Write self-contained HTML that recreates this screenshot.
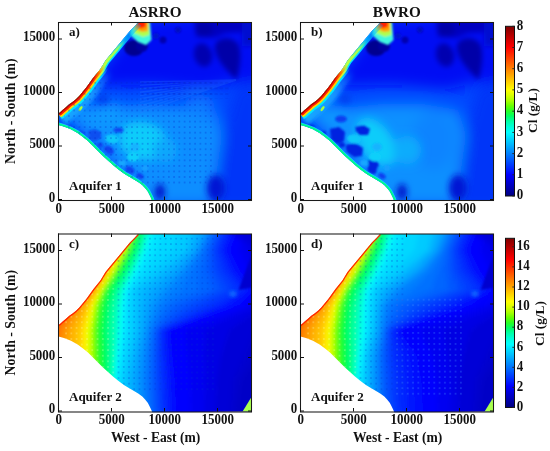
<!DOCTYPE html><html><head><meta charset="utf-8"><style>
html,body{margin:0;padding:0;background:#fff;width:550px;height:451px;overflow:hidden}
svg{display:block;will-change:transform}
text{font-family:"Liberation Serif",serif;font-weight:bold;fill:#111}
</style></head><body>
<svg width="550" height="451" viewBox="0 0 550 451">
<defs>
<clipPath id="dom"><polygon points="138.0,22.6 134.9,26.0 129.9,31.0 124.9,37.0 120.0,43.0 115.0,49.0 110.0,55.0 105.5,60.5 100.4,68.9 93.3,77.7 86.5,87.2 82.6,92.0 79.3,96.0 76.0,99.3 72.6,102.0 69.3,104.3 66.0,107.3 62.7,110.0 60.0,112.6 58.5,113.5 58.5,124.9 63.9,126.6 71.0,129.3 78.0,133.2 83.0,137.0 88.0,141.0 93.0,146.0 98.0,151.0 103.0,156.0 108.0,160.4 113.0,164.9 117.9,168.9 121.9,171.9 124.7,174.0 129.3,176.7 134.0,179.5 138.6,182.3 142.3,185.1 145.1,187.9 147.9,191.6 149.8,195.3 151.6,199.1 152.2,201.0 251.5,200.0 251.5,22.6"/></clipPath>
<filter id="b0_6" x="-50%" y="-50%" width="200%" height="200%"><feGaussianBlur stdDeviation="0.6"/></filter><filter id="b1" x="-50%" y="-50%" width="200%" height="200%"><feGaussianBlur stdDeviation="1"/></filter><filter id="b1_2" x="-50%" y="-50%" width="200%" height="200%"><feGaussianBlur stdDeviation="1.2"/></filter><filter id="b1_5" x="-50%" y="-50%" width="200%" height="200%"><feGaussianBlur stdDeviation="1.5"/></filter><filter id="b2" x="-50%" y="-50%" width="200%" height="200%"><feGaussianBlur stdDeviation="2"/></filter><filter id="b2_5" x="-50%" y="-50%" width="200%" height="200%"><feGaussianBlur stdDeviation="2.5"/></filter><filter id="b3" x="-50%" y="-50%" width="200%" height="200%"><feGaussianBlur stdDeviation="3"/></filter><filter id="b4" x="-50%" y="-50%" width="200%" height="200%"><feGaussianBlur stdDeviation="4"/></filter><filter id="b5" x="-50%" y="-50%" width="200%" height="200%"><feGaussianBlur stdDeviation="5"/></filter><filter id="b7" x="-50%" y="-50%" width="200%" height="200%"><feGaussianBlur stdDeviation="7"/></filter><filter id="b10" x="-50%" y="-50%" width="200%" height="200%"><feGaussianBlur stdDeviation="10"/></filter>
<linearGradient id="cbar1" x1="0" y1="1" x2="0" y2="0"><stop offset="0.000" stop-color="#000080"/><stop offset="0.031" stop-color="#00009f"/><stop offset="0.062" stop-color="#0000bf"/><stop offset="0.094" stop-color="#0000df"/><stop offset="0.125" stop-color="#0000ff"/><stop offset="0.156" stop-color="#0020ff"/><stop offset="0.188" stop-color="#0040ff"/><stop offset="0.219" stop-color="#0060ff"/><stop offset="0.250" stop-color="#0080ff"/><stop offset="0.281" stop-color="#009fff"/><stop offset="0.312" stop-color="#00bfff"/><stop offset="0.344" stop-color="#00dfff"/><stop offset="0.375" stop-color="#00ffff"/><stop offset="0.406" stop-color="#00ffdb"/><stop offset="0.438" stop-color="#00ffaa"/><stop offset="0.469" stop-color="#00ff66"/><stop offset="0.500" stop-color="#26ff26"/><stop offset="0.531" stop-color="#66ff00"/><stop offset="0.562" stop-color="#aaff00"/><stop offset="0.594" stop-color="#dbff00"/><stop offset="0.625" stop-color="#ffff00"/><stop offset="0.656" stop-color="#ffdf00"/><stop offset="0.688" stop-color="#ffbf00"/><stop offset="0.719" stop-color="#ff9f00"/><stop offset="0.750" stop-color="#ff8000"/><stop offset="0.781" stop-color="#ff6000"/><stop offset="0.812" stop-color="#ff4000"/><stop offset="0.844" stop-color="#ff2000"/><stop offset="0.875" stop-color="#ff0000"/><stop offset="0.906" stop-color="#df0000"/><stop offset="0.938" stop-color="#bf0000"/><stop offset="0.969" stop-color="#9f0000"/><stop offset="1.000" stop-color="#800000"/></linearGradient>
<linearGradient id="gGlow" gradientUnits="userSpaceOnUse" x1="58" y1="114" x2="137" y2="22"><stop offset="0" stop-color="#14a8ff"/><stop offset="0.3" stop-color="#1898ff"/><stop offset="0.45" stop-color="#1890ff" stop-opacity="0.5"/><stop offset="0.55" stop-color="#1890ff" stop-opacity="0"/></linearGradient>
<linearGradient id="gCyan" gradientUnits="userSpaceOnUse" x1="58" y1="114" x2="137" y2="22"><stop offset="0" stop-color="#00e8ff"/><stop offset="0.5" stop-color="#00e8ff"/><stop offset="0.75" stop-color="#00d8ff"/><stop offset="0.9" stop-color="#00b8ff" stop-opacity="0.5"/><stop offset="1" stop-color="#00a0ff" stop-opacity="0.3"/></linearGradient>
<linearGradient id="gYel" gradientUnits="userSpaceOnUse" x1="58" y1="114" x2="137" y2="22"><stop offset="0" stop-color="#ffd800"/><stop offset="0.4" stop-color="#ffd000"/><stop offset="0.5" stop-color="#c0ff40"/><stop offset="0.72" stop-color="#a0ff50"/><stop offset="0.82" stop-color="#80ff80" stop-opacity="0"/></linearGradient>
<linearGradient id="gCyanL" gradientUnits="userSpaceOnUse" x1="58" y1="114" x2="137" y2="22"><stop offset="0" stop-color="#00e8ff"/><stop offset="0.45" stop-color="#00e8ff"/><stop offset="0.56" stop-color="#00e8ff" stop-opacity="0"/></linearGradient>
<linearGradient id="gYelL" gradientUnits="userSpaceOnUse" x1="58" y1="114" x2="137" y2="22"><stop offset="0" stop-color="#ffd800"/><stop offset="0.4" stop-color="#ffd000"/><stop offset="0.5" stop-color="#c0ff40"/><stop offset="0.56" stop-color="#c0ff40" stop-opacity="0"/></linearGradient>
<linearGradient id="gRed" gradientUnits="userSpaceOnUse" x1="58" y1="114" x2="137" y2="22"><stop offset="0" stop-color="#ff1800"/><stop offset="0.4" stop-color="#ff2800"/><stop offset="0.48" stop-color="#ff8000"/><stop offset="0.56" stop-color="#ffc000" stop-opacity="0"/></linearGradient>
<linearGradient id="gDark" gradientUnits="userSpaceOnUse" x1="58" y1="114" x2="137" y2="22"><stop offset="0" stop-color="#a80000"/><stop offset="0.4" stop-color="#b80000"/><stop offset="0.5" stop-color="#ff0000" stop-opacity="0"/></linearGradient>
<pattern id="dots" patternUnits="userSpaceOnUse" x="76.77" y="80.03" width="5.26" height="5.54"><ellipse cx="2.63" cy="2.77" rx="1" ry="0.9" fill="#0020c8" opacity="0.32"/></pattern>
<pattern id="dash" patternUnits="userSpaceOnUse" x="76.77" y="80.03" width="5.26" height="5.54"><ellipse cx="2.63" cy="2.77" rx="2" ry="0.8" fill="#0020c8" opacity="0.3"/></pattern>
<pattern id="dotsY" patternUnits="userSpaceOnUse" x="142.08" y="41.01" width="5.24" height="5.58"><ellipse cx="2.62" cy="2.79" rx="1" ry="1" fill="#ffffc0" opacity="0.3"/></pattern>
<pattern id="dotsC" patternUnits="userSpaceOnUse" x="142.08" y="41.01" width="5.24" height="5.58"><ellipse cx="2.62" cy="2.79" rx="1" ry="1" fill="#0030d0" opacity="0.3"/></pattern>
<pattern id="dotsD" patternUnits="userSpaceOnUse" x="141.74" y="41.2" width="5.32" height="5.53"><ellipse cx="2.66" cy="2.76" rx="1" ry="1" fill="#4090ff" opacity="0.35"/></pattern>
</defs>
<g transform="translate(0,0)"><g clip-path="url(#dom)"><rect x="58" y="22" width="194" height="178" fill="#0048ff"/><g filter="url(#b7)"><polygon points="92,84 137,20 262,10 262,84 236,82 205,90 150,85 110,86" fill="#0008f4"/><polygon points="236,86 262,86 262,210 212,210 224,130" fill="#0034f8"/><polygon points="70,118 100,108 140,104 180,106 214,112 222,135 212,205 150,205 100,150" fill="#0c8eff"/><polygon points="180,106 214,108 222,125 200,118" fill="#0c80ff"/><ellipse cx="88" cy="114" rx="22" ry="9" fill="#0c98ff"/><ellipse cx="100" cy="118" rx="30" ry="9" fill="#0c98ff" transform="rotate(15 100 118)"/><ellipse cx="110" cy="108" rx="12" ry="6" fill="#0ca0ff"/><ellipse cx="200" cy="101" rx="15" ry="6" fill="#0c78ff"/></g><g filter="url(#b5)"><ellipse cx="143" cy="141" rx="25" ry="19" fill="#10ccfa" transform="rotate(15 143 141)"/><ellipse cx="165" cy="150" rx="12" ry="12" fill="#10a8fc"/></g><g filter="url(#b2_5)"><polygon points="194,20 246,20 246,32 226,33 214,38 196,37" fill="#0000c0"/><ellipse cx="204" cy="29" rx="9" ry="7.5" fill="#0000a8"/><ellipse cx="203" cy="55" rx="9" ry="12" fill="#0000b0" transform="rotate(-15 203 55)"/><path d="M236.5,79.5 C228,72 214,58 215,46 C216,37 232,35 238,44 C242,52 240,68 236.5,79.5 Z" fill="#0000a8"/><rect x="242" y="16" width="14" height="30" fill="#0008d0"/></g><g filter="url(#b3)"><ellipse cx="216" cy="188" rx="9" ry="13" fill="#0014d4"/><ellipse cx="160" cy="192" rx="5" ry="8" fill="#0014cc"/><ellipse cx="103" cy="99" rx="6" ry="5" fill="#0040f0"/></g><g filter="url(#b1_2)"><ellipse cx="134" cy="48" rx="10" ry="8" fill="#000090"/><ellipse cx="142" cy="46" rx="6" ry="6" fill="#0000a0"/><ellipse cx="156" cy="36" rx="3" ry="3" fill="#0018d0"/><ellipse cx="163" cy="40" rx="3.5" ry="3.5" fill="#0000b0"/><ellipse cx="178" cy="30" rx="3" ry="3" fill="#0008c0"/><polygon points="62,122.5 70,124.5 73.5,127.8 66,128 61,125.5" fill="#0c44f0"/><ellipse cx="81.5" cy="133" rx="2.6" ry="2.1" fill="#0c44f0"/><polygon points="88,131 95,129 101,132 101,138 96,141 90,140" fill="#0850f0"/><ellipse cx="109" cy="150" rx="5.5" ry="3.6" fill="#0c44f0" transform="rotate(35 109 150)"/><ellipse cx="118.5" cy="130" rx="5" ry="2.6" fill="#0c44f0"/><ellipse cx="130" cy="170" rx="5" ry="3.5" fill="#0c44f0" transform="rotate(30 130 170)"/><ellipse cx="100" cy="145" rx="3" ry="2.5" fill="#0c44f0"/><ellipse cx="140" cy="176" rx="4" ry="2.5" fill="#0a40f0" transform="rotate(30 140 176)"/><ellipse cx="112" cy="139" rx="7" ry="4.5" fill="#10c8fa" transform="rotate(10 112 139)"/><ellipse cx="102" cy="157" rx="4" ry="3" fill="#10c0fa"/><ellipse cx="135" cy="147" rx="5" ry="4" fill="#14b4ff"/><ellipse cx="133" cy="157" rx="6" ry="4.5" fill="#10d0fa"/><ellipse cx="122" cy="163" rx="4" ry="3" fill="#14a8ff"/><ellipse cx="145" cy="168" rx="3" ry="3" fill="#18a0ff"/></g><g filter="url(#b1)"><polygon points="130,22 150,22 151.5,40 146,45 138,42 130,35" fill="#40f8e0"/><polygon points="132,22 149,22 149.5,35 143,37 134,33" fill="#b0ff50"/><polygon points="133,21 148,21 148,31 142,32 135,29" fill="#ffa000"/><polygon points="135,21 146,21 145.5,27 141,28.5 137,26" fill="#ff2000"/></g></g><g clip-path="url(#dom)"><path d="M105.5,60.5 L100.4,68.9 L93.3,77.7 L86.5,87.2 L82.6,92.0 L79.3,96.0 L76.0,99.3 L72.6,102.0 L69.3,104.3 L66.0,107.3 L62.7,110.0 L60.0,112.6 L58.5,113.5" fill="none" stroke="url(#gGlow)" stroke-width="26" filter="url(#b2)"/><path d="M138.0,22.6 L134.9,26.0 L129.9,31.0 L124.9,37.0 L120.0,43.0 L115.0,49.0 L110.0,55.0 L105.5,60.5 L100.4,68.9 L93.3,77.7 L86.5,87.2 L82.6,92.0 L79.3,96.0 L76.0,99.3 L72.6,102.0 L69.3,104.3 L66.0,107.3 L62.7,110.0 L60.0,112.6 L58.5,113.5" fill="none" stroke="url(#gCyan)" stroke-width="9" filter="url(#b0_6)"/><path d="M138.0,22.6 L134.9,26.0 L129.9,31.0 L124.9,37.0 L120.0,43.0 L115.0,49.0 L110.0,55.0 L105.5,60.5 L100.4,68.9 L93.3,77.7 L86.5,87.2 L82.6,92.0 L79.3,96.0 L76.0,99.3 L72.6,102.0 L69.3,104.3 L66.0,107.3 L62.7,110.0 L60.0,112.6 L58.5,113.5" fill="none" stroke="url(#gYel)" stroke-width="6" filter="url(#b0_6)"/><path d="M105.5,60.5 L100.4,68.9 L93.3,77.7 L86.5,87.2 L82.6,92.0 L79.3,96.0 L76.0,99.3 L72.6,102.0 L69.3,104.3 L66.0,107.3 L62.7,110.0 L60.0,112.6 L58.5,113.5" fill="none" stroke="url(#gCyanL)" stroke-width="13" filter="url(#b0_6)"/><path d="M105.5,60.5 L100.4,68.9 L93.3,77.7 L86.5,87.2 L82.6,92.0 L79.3,96.0 L76.0,99.3 L72.6,102.0 L69.3,104.3 L66.0,107.3 L62.7,110.0 L60.0,112.6 L58.5,113.5" fill="none" stroke="url(#gYelL)" stroke-width="9" filter="url(#b0_6)"/><path d="M105.5,60.5 L100.4,68.9 L93.3,77.7 L86.5,87.2 L82.6,92.0 L79.3,96.0 L76.0,99.3 L72.6,102.0 L69.3,104.3 L66.0,107.3 L62.7,110.0 L60.0,112.6 L58.5,113.5" fill="none" stroke="url(#gRed)" stroke-width="5.5" filter="url(#b0_6)"/><path d="M105.5,60.5 L100.4,68.9 L93.3,77.7 L86.5,87.2 L82.6,92.0 L79.3,96.0 L76.0,99.3 L72.6,102.0 L69.3,104.3 L66.0,107.3 L62.7,110.0 L60.0,112.6 L58.5,113.5" fill="none" stroke="url(#gDark)" stroke-width="2.2"/><path d="M138.0,22.6 L134.9,26.0 L129.9,31.0 L124.9,37.0 L120.0,43.0 L115.0,49.0 L110.0,55.0" fill="none" stroke="#20c0ff" stroke-width="1.2" opacity="0.7"/><ellipse cx="80.6" cy="108.6" rx="1.3" ry="3" fill="#a0ff40" transform="rotate(35 80.6 108.6)"/><path d="M58.5,124.9 L63.9,126.6 L71.0,129.3 L78.0,133.2 L83.0,137.0 L88.0,141.0 L93.0,146.0 L98.0,151.0 L103.0,156.0 L108.0,160.4 L113.0,164.9 L117.9,168.9 L121.9,171.9 L124.7,174.0 L129.3,176.7 L134.0,179.5 L138.6,182.3 L142.3,185.1 L145.1,187.9 L147.9,191.6 L149.8,195.3 L151.6,199.1 L152.2,201.0" fill="none" stroke="#10d0ff" stroke-width="5" filter="url(#b0_6)"/><path d="M58.5,124.9 L63.9,126.6 L71.0,129.3 L78.0,133.2 L83.0,137.0 L88.0,141.0 L93.0,146.0 L98.0,151.0 L103.0,156.0 L108.0,160.4 L113.0,164.9 L117.9,168.9 L121.9,171.9 L124.7,174.0 L129.3,176.7 L134.0,179.5 L138.6,182.3 L142.3,185.1 L145.1,187.9 L147.9,191.6 L149.8,195.3 L151.6,199.1 L152.2,201.0" fill="none" stroke="#00fa88" stroke-width="3.4" filter="url(#b0_6)"/><path d="M236,80 L140,82 M236,80 L140,85.4 M236,80 L140,88.8 M236,80 L140,92.2 M236,80 L140,95.6 M236,80 L140,99 M236,80 L140,102.4 M236,80 L140,105.8 M236,80 L140,109.2 M236,80 L140,112.6 " stroke="#2a80ff" stroke-width="1.4" opacity="0.25" fill="none" filter="url(#b0_6)"/><rect x="64" y="79" width="149" height="107" fill="url(#dots)"/><rect x="140" y="79" width="90" height="20" fill="url(#dash)"/></g></g><g transform="translate(242,0)"><g clip-path="url(#dom)"><rect x="58" y="22" width="194" height="178" fill="#0048ff"/><g filter="url(#b7)"><polygon points="92,84 137,20 262,10 262,84 236,82 205,90 150,85 110,86" fill="#0008f4"/><polygon points="236,86 262,86 262,210 212,210 224,130" fill="#0034f8"/><polygon points="70,118 100,108 140,104 180,104 216,110 224,135 214,205 150,205 100,150" fill="#0c90ff"/><ellipse cx="192" cy="140" rx="22" ry="30" fill="#0c84ff"/><ellipse cx="88" cy="114" rx="22" ry="9" fill="#0c98ff"/></g><g filter="url(#b5)"><ellipse cx="134" cy="142" rx="16" ry="27" fill="#10ccfa" transform="rotate(-35 134 142)"/><ellipse cx="165" cy="150" rx="14" ry="14" fill="#10acfc"/></g><g filter="url(#b2_5)"><polygon points="194,20 246,20 246,32 226,33 214,38 196,37" fill="#0000c0"/><ellipse cx="204" cy="29" rx="9" ry="7.5" fill="#0000a8"/><ellipse cx="203" cy="55" rx="9" ry="12" fill="#0000b0" transform="rotate(-15 203 55)"/><path d="M236.5,79.5 C228,72 214,58 215,46 C216,37 232,35 238,44 C242,52 240,68 236.5,79.5 Z" fill="#0000a8"/><rect x="242" y="16" width="14" height="30" fill="#0008d0"/></g><g filter="url(#b3)"><ellipse cx="216" cy="188" rx="9" ry="13" fill="#0014d4"/><ellipse cx="160" cy="192" rx="5" ry="8" fill="#0014cc"/><ellipse cx="103" cy="99" rx="6" ry="5" fill="#0040f0"/></g><g filter="url(#b1_2)"><ellipse cx="134" cy="48" rx="10" ry="8" fill="#000090"/><ellipse cx="142" cy="46" rx="6" ry="6" fill="#0000a0"/><ellipse cx="156" cy="36" rx="3" ry="3" fill="#0018d0"/><ellipse cx="163" cy="40" rx="3.5" ry="3.5" fill="#0000b0"/><ellipse cx="178" cy="30" rx="3" ry="3" fill="#0008c0"/><polygon points="62,122.5 70,124.5 73.5,127.8 66,128 61,125.5" fill="#0020e0"/><ellipse cx="81.5" cy="133" rx="2.6" ry="2.1" fill="#0020e0"/><polygon points="88,129 97,127 103,132 102,141 95,144 89,139" fill="#0020e0"/><polygon points="104,145 113,143 121,148 120,156 112,157 105,152" fill="#0020e0"/><polygon points="113,127 122,125.5 128,129 126,135 117,135" fill="#0020e0"/><polygon points="126,160 134,159 137,165 134,170 127,169" fill="#0020e0"/><ellipse cx="99" cy="119" rx="6" ry="3.5" fill="#0840f0"/><ellipse cx="109" cy="150" rx="5.5" ry="3.6" fill="#0020e0" transform="rotate(35 109 150)"/><ellipse cx="118.5" cy="130" rx="5" ry="2.6" fill="#0020e0"/><ellipse cx="130" cy="170" rx="5" ry="3.5" fill="#0020e0" transform="rotate(30 130 170)"/><ellipse cx="100" cy="145" rx="3" ry="2.5" fill="#0020e0"/><ellipse cx="140" cy="176" rx="4" ry="2.5" fill="#0a40f0" transform="rotate(30 140 176)"/><ellipse cx="112" cy="139" rx="7" ry="4.5" fill="#10c8fa" transform="rotate(10 112 139)"/><ellipse cx="102" cy="157" rx="4" ry="3" fill="#10c0fa"/><ellipse cx="135" cy="147" rx="5" ry="4" fill="#14b4ff"/><ellipse cx="133" cy="157" rx="6" ry="4.5" fill="#10d0fa"/><ellipse cx="122" cy="163" rx="4" ry="3" fill="#14a8ff"/><ellipse cx="145" cy="168" rx="3" ry="3" fill="#18a0ff"/></g><g filter="url(#b1)"><polygon points="130,22 150,22 151.5,40 146,45 138,42 130,35" fill="#40f8e0"/><polygon points="132,22 149,22 149.5,35 143,37 134,33" fill="#b0ff50"/><polygon points="133,21 148,21 148,31 142,32 135,29" fill="#ffa000"/><polygon points="135,21 146,21 145.5,27 141,28.5 137,26" fill="#ff2000"/></g></g><g clip-path="url(#dom)"><path d="M105.5,60.5 L100.4,68.9 L93.3,77.7 L86.5,87.2 L82.6,92.0 L79.3,96.0 L76.0,99.3 L72.6,102.0 L69.3,104.3 L66.0,107.3 L62.7,110.0 L60.0,112.6 L58.5,113.5" fill="none" stroke="url(#gGlow)" stroke-width="26" filter="url(#b2)"/><path d="M138.0,22.6 L134.9,26.0 L129.9,31.0 L124.9,37.0 L120.0,43.0 L115.0,49.0 L110.0,55.0 L105.5,60.5 L100.4,68.9 L93.3,77.7 L86.5,87.2 L82.6,92.0 L79.3,96.0 L76.0,99.3 L72.6,102.0 L69.3,104.3 L66.0,107.3 L62.7,110.0 L60.0,112.6 L58.5,113.5" fill="none" stroke="url(#gCyan)" stroke-width="9" filter="url(#b0_6)"/><path d="M138.0,22.6 L134.9,26.0 L129.9,31.0 L124.9,37.0 L120.0,43.0 L115.0,49.0 L110.0,55.0 L105.5,60.5 L100.4,68.9 L93.3,77.7 L86.5,87.2 L82.6,92.0 L79.3,96.0 L76.0,99.3 L72.6,102.0 L69.3,104.3 L66.0,107.3 L62.7,110.0 L60.0,112.6 L58.5,113.5" fill="none" stroke="url(#gYel)" stroke-width="6" filter="url(#b0_6)"/><path d="M105.5,60.5 L100.4,68.9 L93.3,77.7 L86.5,87.2 L82.6,92.0 L79.3,96.0 L76.0,99.3 L72.6,102.0 L69.3,104.3 L66.0,107.3 L62.7,110.0 L60.0,112.6 L58.5,113.5" fill="none" stroke="url(#gCyanL)" stroke-width="13" filter="url(#b0_6)"/><path d="M105.5,60.5 L100.4,68.9 L93.3,77.7 L86.5,87.2 L82.6,92.0 L79.3,96.0 L76.0,99.3 L72.6,102.0 L69.3,104.3 L66.0,107.3 L62.7,110.0 L60.0,112.6 L58.5,113.5" fill="none" stroke="url(#gYelL)" stroke-width="9" filter="url(#b0_6)"/><path d="M105.5,60.5 L100.4,68.9 L93.3,77.7 L86.5,87.2 L82.6,92.0 L79.3,96.0 L76.0,99.3 L72.6,102.0 L69.3,104.3 L66.0,107.3 L62.7,110.0 L60.0,112.6 L58.5,113.5" fill="none" stroke="url(#gRed)" stroke-width="5.5" filter="url(#b0_6)"/><path d="M105.5,60.5 L100.4,68.9 L93.3,77.7 L86.5,87.2 L82.6,92.0 L79.3,96.0 L76.0,99.3 L72.6,102.0 L69.3,104.3 L66.0,107.3 L62.7,110.0 L60.0,112.6 L58.5,113.5" fill="none" stroke="url(#gDark)" stroke-width="2.2"/><path d="M138.0,22.6 L134.9,26.0 L129.9,31.0 L124.9,37.0 L120.0,43.0 L115.0,49.0 L110.0,55.0" fill="none" stroke="#20c0ff" stroke-width="1.2" opacity="0.7"/><ellipse cx="80.6" cy="108.6" rx="1.3" ry="3" fill="#a0ff40" transform="rotate(35 80.6 108.6)"/><path d="M58.5,124.9 L63.9,126.6 L71.0,129.3 L78.0,133.2 L83.0,137.0 L88.0,141.0 L93.0,146.0 L98.0,151.0 L103.0,156.0 L108.0,160.4 L113.0,164.9 L117.9,168.9 L121.9,171.9 L124.7,174.0 L129.3,176.7 L134.0,179.5 L138.6,182.3 L142.3,185.1 L145.1,187.9 L147.9,191.6 L149.8,195.3 L151.6,199.1 L152.2,201.0" fill="none" stroke="#10d0ff" stroke-width="5" filter="url(#b0_6)"/><path d="M58.5,124.9 L63.9,126.6 L71.0,129.3 L78.0,133.2 L83.0,137.0 L88.0,141.0 L93.0,146.0 L98.0,151.0 L103.0,156.0 L108.0,160.4 L113.0,164.9 L117.9,168.9 L121.9,171.9 L124.7,174.0 L129.3,176.7 L134.0,179.5 L138.6,182.3 L142.3,185.1 L145.1,187.9 L147.9,191.6 L149.8,195.3 L151.6,199.1 L152.2,201.0" fill="none" stroke="#00fa88" stroke-width="3.4" filter="url(#b0_6)"/></g></g><g transform="translate(0,211.5)"><g clip-path="url(#dom)"><g transform="translate(0,-211.5)" filter="url(#b2_5)"><polygon points="20.0,225.0 118.0,225.0 108.0,250.0 98.0,270.0 86.0,290.0 72.0,305.0 55.0,330.0 50.0,355.0 50.0,380.0 50.0,420.0 20.0,420.0" fill="#ff5700"/><polygon points="118.0,225.0 108.0,250.0 98.0,270.0 86.0,290.0 72.0,305.0 55.0,330.0 50.0,355.0 50.0,380.0 50.0,420.0 53.0,420.0 53.0,380.0 53.0,355.0 57.5,330.0 74.5,305.0 88.0,290.0 100.0,270.0 110.0,250.0 120.0,225.0" fill="#ff6700" stroke="#ff6700" stroke-width="1"/><polygon points="120.0,225.0 110.0,250.0 100.0,270.0 88.0,290.0 74.5,305.0 57.5,330.0 53.0,355.0 53.0,380.0 53.0,420.0 56.0,420.0 56.0,380.0 56.0,355.0 60.0,330.0 77.0,305.0 90.0,290.0 102.0,270.0 112.0,250.0 122.0,225.0" fill="#ff7400" stroke="#ff7400" stroke-width="1"/><polygon points="122.0,225.0 112.0,250.0 102.0,270.0 90.0,290.0 77.0,305.0 60.0,330.0 56.0,355.0 56.0,380.0 56.0,420.0 59.1,420.0 59.1,380.0 59.1,355.0 62.8,330.0 79.2,305.0 91.7,290.0 103.1,270.0 113.4,250.0 123.4,225.0" fill="#ff8100" stroke="#ff8100" stroke-width="1"/><polygon points="123.4,225.0 113.4,250.0 103.1,270.0 91.7,290.0 79.2,305.0 62.8,330.0 59.1,355.0 59.1,380.0 59.1,420.0 62.1,420.0 62.1,380.0 62.1,355.0 65.6,330.0 81.4,305.0 93.3,290.0 104.2,270.0 114.8,250.0 124.8,225.0" fill="#ff8e00" stroke="#ff8e00" stroke-width="1"/><polygon points="124.8,225.0 114.8,250.0 104.2,270.0 93.3,290.0 81.4,305.0 65.6,330.0 62.1,355.0 62.1,380.0 62.1,420.0 65.2,420.0 65.2,380.0 65.2,355.0 68.3,330.0 83.7,305.0 95.0,290.0 105.3,270.0 116.2,250.0 126.2,225.0" fill="#ff9a00" stroke="#ff9a00" stroke-width="1"/><polygon points="126.2,225.0 116.2,250.0 105.3,270.0 95.0,290.0 83.7,305.0 68.3,330.0 65.2,355.0 65.2,380.0 65.2,420.0 68.8,420.0 68.8,380.0 68.8,355.0 71.7,330.0 85.7,305.0 96.3,290.0 106.5,270.0 117.5,250.0 127.5,225.0" fill="#ffa700" stroke="#ffa700" stroke-width="1"/><polygon points="127.5,225.0 117.5,250.0 106.5,270.0 96.3,290.0 85.7,305.0 71.7,330.0 68.8,355.0 68.8,380.0 68.8,420.0 73.4,420.0 73.4,380.0 73.4,355.0 75.8,330.0 87.3,305.0 97.2,290.0 107.7,270.0 118.7,250.0 128.7,225.0" fill="#ffb400" stroke="#ffb400" stroke-width="1"/><polygon points="128.7,225.0 118.7,250.0 107.7,270.0 97.2,290.0 87.3,305.0 75.8,330.0 73.4,355.0 73.4,380.0 73.4,420.0 78.0,420.0 78.0,380.0 78.0,355.0 80.0,330.0 89.0,305.0 98.0,290.0 109.0,270.0 120.0,250.0 130.0,225.0" fill="#ffc100" stroke="#ffc100" stroke-width="1"/><polygon points="130.0,225.0 120.0,250.0 109.0,270.0 98.0,290.0 89.0,305.0 80.0,330.0 78.0,355.0 78.0,380.0 78.0,420.0 80.2,420.0 80.2,380.0 80.2,355.0 81.9,330.0 89.9,305.0 98.6,290.0 109.9,270.0 120.9,250.0 130.9,225.0" fill="#ffcd00" stroke="#ffcd00" stroke-width="1"/><polygon points="130.9,225.0 120.9,250.0 109.9,270.0 98.6,290.0 89.9,305.0 81.9,330.0 80.2,355.0 80.2,380.0 80.2,420.0 82.4,420.0 82.4,380.0 82.4,355.0 83.7,330.0 90.9,305.0 99.2,290.0 110.9,270.0 121.9,250.0 131.9,225.0" fill="#ffda00" stroke="#ffda00" stroke-width="1"/><polygon points="131.9,225.0 121.9,250.0 110.9,270.0 99.2,290.0 90.9,305.0 83.7,330.0 82.4,355.0 82.4,380.0 82.4,420.0 84.6,420.0 84.6,380.0 84.6,355.0 85.6,330.0 91.8,305.0 99.9,290.0 111.8,270.0 122.8,250.0 132.8,225.0" fill="#ffe700" stroke="#ffe700" stroke-width="1"/><polygon points="132.8,225.0 122.8,250.0 111.8,270.0 99.9,290.0 91.8,305.0 85.6,330.0 84.6,355.0 84.6,380.0 84.6,420.0 85.9,420.0 85.9,380.0 85.9,355.0 86.8,330.0 92.5,305.0 100.4,290.0 112.4,270.0 123.4,250.0 133.4,225.0" fill="#fff400" stroke="#fff400" stroke-width="1"/><polygon points="133.4,225.0 123.4,250.0 112.4,270.0 100.4,290.0 92.5,305.0 86.8,330.0 85.9,355.0 85.9,380.0 85.9,420.0 87.1,420.0 87.1,380.0 87.1,355.0 87.8,330.0 93.2,305.0 100.9,290.0 112.9,270.0 123.9,250.0 133.9,225.0" fill="#feff00" stroke="#feff00" stroke-width="1"/><polygon points="133.9,225.0 123.9,250.0 112.9,270.0 100.9,290.0 93.2,305.0 87.8,330.0 87.1,355.0 87.1,380.0 87.1,420.0 88.3,420.0 88.3,380.0 88.3,355.0 88.8,330.0 93.9,305.0 101.4,290.0 113.4,270.0 124.4,250.0 134.4,225.0" fill="#f0ff00" stroke="#f0ff00" stroke-width="1"/><polygon points="134.4,225.0 124.4,250.0 113.4,270.0 101.4,290.0 93.9,305.0 88.8,330.0 88.3,355.0 88.3,380.0 88.3,420.0 89.4,420.0 89.4,380.0 89.4,355.0 89.8,330.0 94.5,305.0 101.9,290.0 113.9,270.0 124.9,250.0 134.9,225.0" fill="#e1ff00" stroke="#e1ff00" stroke-width="1"/><polygon points="134.9,225.0 124.9,250.0 113.9,270.0 101.9,290.0 94.5,305.0 89.8,330.0 89.4,355.0 89.4,380.0 89.4,420.0 90.6,420.0 90.6,380.0 90.6,355.0 90.8,330.0 95.2,305.0 102.4,290.0 114.4,270.0 125.4,250.0 135.4,225.0" fill="#d0ff00" stroke="#d0ff00" stroke-width="1"/><polygon points="135.4,225.0 125.4,250.0 114.4,270.0 102.4,290.0 95.2,305.0 90.8,330.0 90.6,355.0 90.6,380.0 90.6,420.0 91.8,420.0 91.8,380.0 91.8,355.0 91.8,330.0 95.9,305.0 102.9,290.0 114.9,270.0 125.9,250.0 135.9,225.0" fill="#bdff00" stroke="#bdff00" stroke-width="1"/><polygon points="135.9,225.0 125.9,250.0 114.9,270.0 102.9,290.0 95.9,305.0 91.8,330.0 91.8,355.0 91.8,380.0 91.8,420.0 93.2,420.0 93.2,380.0 93.1,355.0 92.9,330.0 96.8,305.0 103.5,290.0 115.6,270.0 126.6,250.0 136.5,225.0" fill="#a8ff00" stroke="#a8ff00" stroke-width="1"/><polygon points="136.5,225.0 126.6,250.0 115.6,270.0 103.5,290.0 96.8,305.0 92.9,330.0 93.1,355.0 93.2,380.0 93.2,420.0 94.8,420.0 94.8,380.0 94.4,355.0 94.1,330.0 97.7,305.0 104.0,290.0 116.4,270.0 127.4,250.0 137.0,225.0" fill="#8fff00" stroke="#8fff00" stroke-width="1"/><polygon points="137.0,225.0 127.4,250.0 116.4,270.0 104.0,290.0 97.7,305.0 94.1,330.0 94.4,355.0 94.8,380.0 94.8,420.0 96.3,420.0 96.3,380.0 95.8,355.0 95.2,330.0 98.7,305.0 104.6,290.0 117.2,270.0 128.2,250.0 137.6,225.0" fill="#73ff00" stroke="#73ff00" stroke-width="1"/><polygon points="137.6,225.0 128.2,250.0 117.2,270.0 104.6,290.0 98.7,305.0 95.2,330.0 95.8,355.0 96.3,380.0 96.3,420.0 97.8,420.0 97.8,380.0 97.1,355.0 96.4,330.0 99.7,305.0 105.2,290.0 117.9,270.0 128.9,250.0 138.2,225.0" fill="#51ff00" stroke="#51ff00" stroke-width="1"/><polygon points="138.2,225.0 128.9,250.0 117.9,270.0 105.2,290.0 99.7,305.0 96.4,330.0 97.1,355.0 97.8,380.0 97.8,420.0 99.4,420.0 99.4,380.0 98.5,355.0 97.5,330.0 100.6,305.0 105.8,290.0 118.7,270.0 129.7,250.0 138.8,225.0" fill="#3aff13" stroke="#3aff13" stroke-width="1"/><polygon points="138.8,225.0 129.7,250.0 118.7,270.0 105.8,290.0 100.6,305.0 97.5,330.0 98.5,355.0 99.4,380.0 99.4,420.0 102.0,420.0 101.7,380.0 100.7,355.0 99.7,330.0 102.7,305.0 107.7,290.0 120.5,270.0 131.2,250.0 140.0,225.0" fill="#24ff28" stroke="#24ff28" stroke-width="1"/><polygon points="140.0,225.0 131.2,250.0 120.5,270.0 107.7,290.0 102.7,305.0 99.7,330.0 100.7,355.0 101.7,380.0 102.0,420.0 105.3,420.0 104.7,380.0 103.7,355.0 102.7,330.0 105.7,305.0 110.7,290.0 123.0,270.0 133.3,250.0 141.7,225.0" fill="#0eff3e" stroke="#0eff3e" stroke-width="1"/><polygon points="141.7,225.0 133.3,250.0 123.0,270.0 110.7,290.0 105.7,305.0 102.7,330.0 103.7,355.0 104.7,380.0 105.3,420.0 108.4,420.0 107.4,380.0 106.5,355.0 105.6,330.0 108.5,305.0 113.5,290.0 125.5,270.0 135.5,250.0 143.5,225.0" fill="#00ff59" stroke="#00ff59" stroke-width="1"/><polygon points="143.5,225.0 135.5,250.0 125.5,270.0 113.5,290.0 108.5,305.0 105.6,330.0 106.5,355.0 107.4,380.0 108.4,420.0 110.2,420.0 109.2,380.0 109.0,355.0 108.7,330.0 111.0,305.0 116.0,290.0 128.0,270.0 138.0,250.0 146.0,225.0" fill="#00ff79" stroke="#00ff79" stroke-width="1"/><polygon points="146.0,225.0 138.0,250.0 128.0,270.0 116.0,290.0 111.0,305.0 108.7,330.0 109.0,355.0 109.2,380.0 110.2,420.0 111.7,420.0 110.7,380.0 111.2,355.0 111.7,330.0 113.7,305.0 118.2,290.0 130.0,270.0 139.7,250.0 147.7,225.0" fill="#00ff94" stroke="#00ff94" stroke-width="1"/><polygon points="147.7,225.0 139.7,250.0 130.0,270.0 118.2,290.0 113.7,305.0 111.7,330.0 111.2,355.0 110.7,380.0 111.7,420.0 113.0,420.0 112.0,380.0 113.3,355.0 114.7,330.0 116.7,305.0 120.3,290.0 131.7,270.0 141.0,250.0 149.0,225.0" fill="#00ffac" stroke="#00ffac" stroke-width="1"/><polygon points="149.0,225.0 141.0,250.0 131.7,270.0 120.3,290.0 116.7,305.0 114.7,330.0 113.3,355.0 112.0,380.0 113.0,420.0 114.2,420.0 113.2,380.0 115.2,355.0 117.3,330.0 119.2,305.0 122.2,290.0 133.2,270.0 142.2,250.0 150.2,225.0" fill="#00ffc1" stroke="#00ffc1" stroke-width="1"/><polygon points="150.2,225.0 142.2,250.0 133.2,270.0 122.2,290.0 119.2,305.0 117.3,330.0 115.2,355.0 113.2,380.0 114.2,420.0 115.1,420.0 114.1,380.0 116.3,355.0 118.7,330.0 120.5,305.0 123.3,290.0 134.3,270.0 143.5,250.0 151.5,225.0" fill="#00ffd4" stroke="#00ffd4" stroke-width="1"/><polygon points="151.5,225.0 143.5,250.0 134.3,270.0 123.3,290.0 120.5,305.0 118.7,330.0 116.3,355.0 114.1,380.0 115.1,420.0 116.0,420.0 115.0,380.0 117.4,355.0 120.1,330.0 121.7,305.0 124.4,290.0 135.4,270.0 144.7,250.0 152.7,225.0" fill="#00ffe4" stroke="#00ffe4" stroke-width="1"/><polygon points="152.7,225.0 144.7,250.0 135.4,270.0 124.4,290.0 121.7,305.0 120.1,330.0 117.4,355.0 115.0,380.0 116.0,420.0 116.9,420.0 115.9,380.0 118.4,355.0 121.6,330.0 123.0,305.0 125.4,290.0 136.4,270.0 146.0,250.0 154.0,225.0" fill="#00fff3" stroke="#00fff3" stroke-width="1"/><polygon points="154.0,225.0 146.0,250.0 136.4,270.0 125.4,290.0 123.0,305.0 121.6,330.0 118.4,355.0 115.9,380.0 116.9,420.0 117.7,420.0 116.7,380.0 119.5,355.0 123.0,330.0 124.2,305.0 126.5,290.0 137.5,270.0 147.2,250.0 155.2,225.0" fill="#00feff" stroke="#00feff" stroke-width="1"/><polygon points="155.2,225.0 147.2,250.0 137.5,270.0 126.5,290.0 124.2,305.0 123.0,330.0 119.5,355.0 116.7,380.0 117.7,420.0 118.6,420.0 117.6,380.0 120.6,355.0 124.4,330.0 125.5,305.0 127.6,290.0 138.6,270.0 148.5,250.0 156.5,225.0" fill="#00f1ff" stroke="#00f1ff" stroke-width="1"/><polygon points="156.5,225.0 148.5,250.0 138.6,270.0 127.6,290.0 125.5,305.0 124.4,330.0 120.6,355.0 117.6,380.0 118.6,420.0 120.7,420.0 119.7,380.0 123.2,355.0 127.5,330.0 128.2,305.0 129.7,290.0 144.2,270.0 158.0,250.0 165.2,225.0" fill="#00e4ff" stroke="#00e4ff" stroke-width="1"/><polygon points="165.2,225.0 158.0,250.0 144.2,270.0 129.7,290.0 128.2,305.0 127.5,330.0 123.2,355.0 119.7,380.0 120.7,420.0 123.7,420.0 122.7,380.0 127.0,355.0 131.7,330.0 132.0,305.0 132.7,290.0 153.0,270.0 173.0,250.0 179.0,225.0" fill="#00d7ff" stroke="#00d7ff" stroke-width="1"/><polygon points="179.0,225.0 173.0,250.0 153.0,270.0 132.7,290.0 132.0,305.0 131.7,330.0 127.0,355.0 122.7,380.0 123.7,420.0 126.7,420.0 125.7,380.0 130.6,355.0 135.6,330.0 135.9,305.0 136.6,290.0 161.2,270.0 185.7,250.0 191.1,225.0" fill="#00cbff" stroke="#00cbff" stroke-width="1"/><polygon points="191.1,225.0 185.7,250.0 161.2,270.0 136.6,290.0 135.9,305.0 135.6,330.0 130.6,355.0 125.7,380.0 126.7,420.0 130.5,420.0 129.5,380.0 133.7,355.0 138.7,330.0 140.6,305.0 144.4,290.0 167.5,270.0 189.5,250.0 196.7,225.0" fill="#00beff" stroke="#00beff" stroke-width="1"/><polygon points="196.7,225.0 189.5,250.0 167.5,270.0 144.4,290.0 140.6,305.0 138.7,330.0 133.7,355.0 129.5,380.0 130.5,420.0 134.2,420.0 133.2,380.0 136.9,355.0 141.9,330.0 145.3,305.0 152.2,290.0 173.7,270.0 193.2,250.0 202.4,225.0" fill="#00b1ff" stroke="#00b1ff" stroke-width="1"/><polygon points="202.4,225.0 193.2,250.0 173.7,270.0 152.2,290.0 145.3,305.0 141.9,330.0 136.9,355.0 133.2,380.0 134.2,420.0 138.0,420.0 137.0,380.0 140.0,355.0 145.0,330.0 150.0,305.0 160.0,290.0 180.0,270.0 197.0,250.0 208.0,225.0" fill="#00a4ff" stroke="#00a4ff" stroke-width="1"/><polygon points="208.0,225.0 197.0,250.0 180.0,270.0 160.0,290.0 150.0,305.0 145.0,330.0 140.0,355.0 137.0,380.0 138.0,420.0 141.3,420.0 140.3,380.0 142.9,355.0 147.1,330.0 154.2,305.0 165.4,290.0 183.3,270.0 198.7,250.0 210.1,225.0" fill="#0098ff" stroke="#0098ff" stroke-width="1"/><polygon points="210.1,225.0 198.7,250.0 183.3,270.0 165.4,290.0 154.2,305.0 147.1,330.0 142.9,355.0 140.3,380.0 141.3,420.0 144.7,420.0 143.7,380.0 145.8,355.0 149.2,330.0 158.3,305.0 170.8,290.0 186.7,270.0 200.3,250.0 212.2,225.0" fill="#008bff" stroke="#008bff" stroke-width="1"/><polygon points="212.2,225.0 200.3,250.0 186.7,270.0 170.8,290.0 158.3,305.0 149.2,330.0 145.8,355.0 143.7,380.0 144.7,420.0 147.7,420.0 146.7,380.0 148.5,355.0 151.2,330.0 163.7,305.0 182.2,290.0 192.2,270.0 202.7,250.0 214.2,225.0" fill="#007eff" stroke="#007eff" stroke-width="1"/><polygon points="214.2,225.0 202.7,250.0 192.2,270.0 182.2,290.0 163.7,305.0 151.2,330.0 148.5,355.0 146.7,380.0 147.7,420.0 150.7,420.0 149.7,380.0 151.0,355.0 153.3,330.0 170.0,305.0 197.7,290.0 199.3,270.0 205.7,250.0 216.3,225.0" fill="#0071ff" stroke="#0071ff" stroke-width="1"/><polygon points="216.3,225.0 205.7,250.0 199.3,270.0 197.7,290.0 170.0,305.0 153.3,330.0 151.0,355.0 149.7,380.0 150.7,420.0 153.6,420.0 152.5,380.0 153.4,355.0 155.3,330.0 177.0,305.0 211.5,290.0 206.0,270.0 208.5,250.0 218.5,225.0" fill="#0065ff" stroke="#0065ff" stroke-width="1"/><polygon points="218.5,225.0 208.5,250.0 206.0,270.0 211.5,290.0 177.0,305.0 155.3,330.0 153.4,355.0 152.5,380.0 153.6,420.0 156.6,420.0 155.3,380.0 155.7,355.0 157.1,330.0 187.0,305.0 219.0,290.0 211.0,270.0 211.3,250.0 221.0,225.0" fill="#0058ff" stroke="#0058ff" stroke-width="1"/><polygon points="221.0,225.0 211.3,250.0 211.0,270.0 219.0,290.0 187.0,305.0 157.1,330.0 155.7,355.0 155.3,380.0 156.6,420.0 159.6,420.0 158.0,380.0 157.9,355.0 158.8,330.0 197.0,305.0 226.5,290.0 216.0,270.0 214.0,250.0 223.5,225.0" fill="#004bff" stroke="#004bff" stroke-width="1"/><polygon points="223.5,225.0 214.0,250.0 216.0,270.0 226.5,290.0 197.0,305.0 158.8,330.0 157.9,355.0 158.0,380.0 159.6,420.0 162.6,420.0 160.8,380.0 160.2,355.0 160.6,330.0 207.0,305.0 234.0,290.0 221.0,270.0 216.8,250.0 226.0,225.0" fill="#003eff" stroke="#003eff" stroke-width="1"/><polygon points="226.0,225.0 216.8,250.0 221.0,270.0 234.0,290.0 207.0,305.0 160.6,330.0 160.2,355.0 160.8,380.0 162.6,420.0 165.7,420.0 163.7,380.0 162.6,355.0 162.5,330.0 216.6,305.0 240.9,290.0 225.9,270.0 219.7,250.0 228.7,225.0" fill="#0032ff" stroke="#0032ff" stroke-width="1"/><polygon points="228.7,225.0 219.7,250.0 225.9,270.0 240.9,290.0 216.6,305.0 162.5,330.0 162.6,355.0 163.7,380.0 165.7,420.0 169.5,420.0 167.5,380.0 165.7,355.0 165.0,330.0 224.4,305.0 245.6,290.0 230.6,270.0 223.1,250.0 232.5,225.0" fill="#0025ff" stroke="#0025ff" stroke-width="1"/><polygon points="232.5,225.0 223.1,250.0 230.6,270.0 245.6,290.0 224.4,305.0 165.0,330.0 165.7,355.0 167.5,380.0 169.5,420.0 173.2,420.0 171.2,380.0 168.9,355.0 167.5,330.0 232.2,305.0 250.3,290.0 235.3,270.0 226.6,250.0 236.2,225.0" fill="#0018ff" stroke="#0018ff" stroke-width="1"/><polygon points="236.2,225.0 226.6,250.0 235.3,270.0 250.3,290.0 232.2,305.0 167.5,330.0 168.9,355.0 171.2,380.0 173.2,420.0 177.0,420.0 175.0,380.0 172.0,355.0 170.0,330.0 240.0,305.0 255.0,290.0 240.0,270.0 230.0,250.0 240.0,225.0" fill="#000bff" stroke="#000bff" stroke-width="1"/><polygon points="240.0,225.0 230.0,250.0 240.0,270.0 255.0,290.0 240.0,305.0 170.0,330.0 172.0,355.0 175.0,380.0 177.0,420.0 191.4,420.0 190.6,380.0 188.2,355.0 185.6,330.0 249.4,305.0 261.2,290.0 249.4,270.0 239.4,250.0 250.0,225.0" fill="#0000fe" stroke="#0000fe" stroke-width="1"/><polygon points="250.0,225.0 239.4,250.0 249.4,270.0 261.2,290.0 249.4,305.0 185.6,330.0 188.2,355.0 190.6,380.0 191.4,420.0 204.5,420.0 205.0,380.0 204.7,355.0 205.0,330.0 258.2,305.0 267.5,290.0 258.2,270.0 249.2,250.0 259.5,225.0" fill="#0000f1" stroke="#0000f1" stroke-width="1"/><polygon points="259.5,225.0 249.2,250.0 258.2,270.0 267.5,290.0 258.2,305.0 205.0,330.0 204.7,355.0 205.0,380.0 204.5,420.0 215.7,420.0 217.5,380.0 221.6,355.0 230.0,330.0 266.4,305.0 273.7,290.0 266.4,270.0 259.9,250.0 268.2,225.0" fill="#0000e4" stroke="#0000e4" stroke-width="1"/><polygon points="268.2,225.0 259.9,250.0 266.4,270.0 273.7,290.0 266.4,305.0 230.0,330.0 221.6,355.0 217.5,380.0 215.7,420.0 229.3,420.0 233.3,380.0 245.0,355.0 255.0,330.0 277.3,305.0 281.7,290.0 277.3,270.0 274.0,250.0 280.0,225.0" fill="#0000d7" stroke="#0000d7" stroke-width="1"/><polygon points="280.0,225.0 274.0,250.0 277.3,270.0 281.7,290.0 277.3,305.0 255.0,330.0 245.0,355.0 233.3,380.0 229.3,420.0 235.0,420.0 240.0,380.0 255.0,355.0 265.0,330.0 282.0,305.0 285.0,290.0 282.0,270.0 280.0,250.0 285.0,225.0" fill="#0000cf" stroke="#0000cf" stroke-width="1"/><polygon points="285.0,225.0 280.0,250.0 282.0,270.0 285.0,290.0 282.0,305.0 265.0,330.0 255.0,355.0 240.0,380.0 235.0,420.0 300.0,420.0 300.0,225.0" fill="#0000c7"/></g><g filter="url(#b3)"><polygon points="222,15 260,15 260,40" fill="#0000d8"/></g><g filter="url(#b1)"><polygon points="238.6,78.5 252,42 252,76" fill="#0000d0"/></g><g filter="url(#b2)"><ellipse cx="233" cy="82.5" rx="3.2" ry="2.4" fill="#1488ff"/></g><g filter="url(#b0_6)"><polygon points="242,201 253,201 253,183" fill="#a8ff50"/></g><rect x="62" y="26" width="54" height="155" fill="url(#dotsY)"/><rect x="116" y="26" width="100" height="155" fill="url(#dotsC)"/></g><g clip-path="url(#dom)"><path d="M138.0,22.6 L134.9,26.0 L129.9,31.0 L124.9,37.0 L120.0,43.0 L115.0,49.0 L110.0,55.0 L105.5,60.5 L100.4,68.9 L93.3,77.7 L86.5,87.2 L82.6,92.0 L79.3,96.0 L76.0,99.3 L72.6,102.0 L69.3,104.3 L66.0,107.3 L62.7,110.0 L60.0,112.6 L58.5,113.5" fill="none" stroke="#ff2000" stroke-width="2.4" filter="url(#b0_6)"/></g></g><g transform="translate(242,211.5)"><g clip-path="url(#dom)"><g transform="translate(0,-211.5)" filter="url(#b2_5)"><polygon points="20.0,225.0 118.0,225.0 108.0,250.0 98.0,270.0 86.0,290.0 72.0,305.0 55.0,330.0 50.0,355.0 50.0,380.0 50.0,420.0 20.0,420.0" fill="#ff5700"/><polygon points="118.0,225.0 108.0,250.0 98.0,270.0 86.0,290.0 72.0,305.0 55.0,330.0 50.0,355.0 50.0,380.0 50.0,420.0 53.0,420.0 53.0,380.0 53.0,355.0 57.5,330.0 74.5,305.0 88.0,290.0 100.0,270.0 110.0,250.0 120.0,225.0" fill="#ff6700" stroke="#ff6700" stroke-width="1"/><polygon points="120.0,225.0 110.0,250.0 100.0,270.0 88.0,290.0 74.5,305.0 57.5,330.0 53.0,355.0 53.0,380.0 53.0,420.0 56.0,420.0 56.0,380.0 56.0,355.0 60.0,330.0 77.0,305.0 90.0,290.0 102.0,270.0 112.0,250.0 122.0,225.0" fill="#ff7400" stroke="#ff7400" stroke-width="1"/><polygon points="122.0,225.0 112.0,250.0 102.0,270.0 90.0,290.0 77.0,305.0 60.0,330.0 56.0,355.0 56.0,380.0 56.0,420.0 59.1,420.0 59.1,380.0 59.1,355.0 62.8,330.0 79.2,305.0 91.7,290.0 103.1,270.0 113.4,250.0 123.4,225.0" fill="#ff8100" stroke="#ff8100" stroke-width="1"/><polygon points="123.4,225.0 113.4,250.0 103.1,270.0 91.7,290.0 79.2,305.0 62.8,330.0 59.1,355.0 59.1,380.0 59.1,420.0 62.1,420.0 62.1,380.0 62.1,355.0 65.6,330.0 81.4,305.0 93.3,290.0 104.2,270.0 114.8,250.0 124.8,225.0" fill="#ff8e00" stroke="#ff8e00" stroke-width="1"/><polygon points="124.8,225.0 114.8,250.0 104.2,270.0 93.3,290.0 81.4,305.0 65.6,330.0 62.1,355.0 62.1,380.0 62.1,420.0 65.2,420.0 65.2,380.0 65.2,355.0 68.3,330.0 83.7,305.0 95.0,290.0 105.3,270.0 116.2,250.0 126.2,225.0" fill="#ff9a00" stroke="#ff9a00" stroke-width="1"/><polygon points="126.2,225.0 116.2,250.0 105.3,270.0 95.0,290.0 83.7,305.0 68.3,330.0 65.2,355.0 65.2,380.0 65.2,420.0 68.8,420.0 68.8,380.0 68.8,355.0 71.7,330.0 85.7,305.0 96.3,290.0 106.5,270.0 117.5,250.0 127.5,225.0" fill="#ffa700" stroke="#ffa700" stroke-width="1"/><polygon points="127.5,225.0 117.5,250.0 106.5,270.0 96.3,290.0 85.7,305.0 71.7,330.0 68.8,355.0 68.8,380.0 68.8,420.0 73.4,420.0 73.4,380.0 73.4,355.0 75.8,330.0 87.3,305.0 97.2,290.0 107.7,270.0 118.7,250.0 128.7,225.0" fill="#ffb400" stroke="#ffb400" stroke-width="1"/><polygon points="128.7,225.0 118.7,250.0 107.7,270.0 97.2,290.0 87.3,305.0 75.8,330.0 73.4,355.0 73.4,380.0 73.4,420.0 78.0,420.0 78.0,380.0 78.0,355.0 80.0,330.0 89.0,305.0 98.0,290.0 109.0,270.0 120.0,250.0 130.0,225.0" fill="#ffc100" stroke="#ffc100" stroke-width="1"/><polygon points="130.0,225.0 120.0,250.0 109.0,270.0 98.0,290.0 89.0,305.0 80.0,330.0 78.0,355.0 78.0,380.0 78.0,420.0 80.2,420.0 80.2,380.0 80.2,355.0 81.9,330.0 89.9,305.0 98.6,290.0 109.9,270.0 120.9,250.0 130.9,225.0" fill="#ffcd00" stroke="#ffcd00" stroke-width="1"/><polygon points="130.9,225.0 120.9,250.0 109.9,270.0 98.6,290.0 89.9,305.0 81.9,330.0 80.2,355.0 80.2,380.0 80.2,420.0 82.4,420.0 82.4,380.0 82.4,355.0 83.7,330.0 90.9,305.0 99.2,290.0 110.9,270.0 121.9,250.0 131.9,225.0" fill="#ffda00" stroke="#ffda00" stroke-width="1"/><polygon points="131.9,225.0 121.9,250.0 110.9,270.0 99.2,290.0 90.9,305.0 83.7,330.0 82.4,355.0 82.4,380.0 82.4,420.0 84.6,420.0 84.6,380.0 84.6,355.0 85.6,330.0 91.8,305.0 99.9,290.0 111.8,270.0 122.8,250.0 132.8,225.0" fill="#ffe700" stroke="#ffe700" stroke-width="1"/><polygon points="132.8,225.0 122.8,250.0 111.8,270.0 99.9,290.0 91.8,305.0 85.6,330.0 84.6,355.0 84.6,380.0 84.6,420.0 85.9,420.0 85.9,380.0 85.9,355.0 86.8,330.0 92.5,305.0 100.4,290.0 112.4,270.0 123.4,250.0 133.4,225.0" fill="#fff400" stroke="#fff400" stroke-width="1"/><polygon points="133.4,225.0 123.4,250.0 112.4,270.0 100.4,290.0 92.5,305.0 86.8,330.0 85.9,355.0 85.9,380.0 85.9,420.0 87.1,420.0 87.1,380.0 87.1,355.0 87.8,330.0 93.2,305.0 100.9,290.0 112.9,270.0 123.9,250.0 133.9,225.0" fill="#feff00" stroke="#feff00" stroke-width="1"/><polygon points="133.9,225.0 123.9,250.0 112.9,270.0 100.9,290.0 93.2,305.0 87.8,330.0 87.1,355.0 87.1,380.0 87.1,420.0 88.3,420.0 88.3,380.0 88.3,355.0 88.8,330.0 93.9,305.0 101.4,290.0 113.4,270.0 124.4,250.0 134.4,225.0" fill="#f0ff00" stroke="#f0ff00" stroke-width="1"/><polygon points="134.4,225.0 124.4,250.0 113.4,270.0 101.4,290.0 93.9,305.0 88.8,330.0 88.3,355.0 88.3,380.0 88.3,420.0 89.4,420.0 89.4,380.0 89.4,355.0 89.8,330.0 94.5,305.0 101.9,290.0 113.9,270.0 124.9,250.0 134.9,225.0" fill="#e1ff00" stroke="#e1ff00" stroke-width="1"/><polygon points="134.9,225.0 124.9,250.0 113.9,270.0 101.9,290.0 94.5,305.0 89.8,330.0 89.4,355.0 89.4,380.0 89.4,420.0 90.6,420.0 90.6,380.0 90.6,355.0 90.8,330.0 95.2,305.0 102.4,290.0 114.4,270.0 125.4,250.0 135.4,225.0" fill="#d0ff00" stroke="#d0ff00" stroke-width="1"/><polygon points="135.4,225.0 125.4,250.0 114.4,270.0 102.4,290.0 95.2,305.0 90.8,330.0 90.6,355.0 90.6,380.0 90.6,420.0 91.8,420.0 91.8,380.0 91.8,355.0 91.8,330.0 95.9,305.0 102.9,290.0 114.9,270.0 125.9,250.0 135.9,225.0" fill="#bdff00" stroke="#bdff00" stroke-width="1"/><polygon points="135.9,225.0 125.9,250.0 114.9,270.0 102.9,290.0 95.9,305.0 91.8,330.0 91.8,355.0 91.8,380.0 91.8,420.0 93.2,420.0 93.2,380.0 93.1,355.0 92.9,330.0 96.8,305.0 103.5,290.0 115.6,270.0 126.6,250.0 136.5,225.0" fill="#a8ff00" stroke="#a8ff00" stroke-width="1"/><polygon points="136.5,225.0 126.6,250.0 115.6,270.0 103.5,290.0 96.8,305.0 92.9,330.0 93.1,355.0 93.2,380.0 93.2,420.0 94.8,420.0 94.8,380.0 94.4,355.0 94.1,330.0 97.7,305.0 104.0,290.0 116.4,270.0 127.4,250.0 137.0,225.0" fill="#8fff00" stroke="#8fff00" stroke-width="1"/><polygon points="137.0,225.0 127.4,250.0 116.4,270.0 104.0,290.0 97.7,305.0 94.1,330.0 94.4,355.0 94.8,380.0 94.8,420.0 96.3,420.0 96.3,380.0 95.8,355.0 95.2,330.0 98.7,305.0 104.6,290.0 117.2,270.0 128.2,250.0 137.6,225.0" fill="#73ff00" stroke="#73ff00" stroke-width="1"/><polygon points="137.6,225.0 128.2,250.0 117.2,270.0 104.6,290.0 98.7,305.0 95.2,330.0 95.8,355.0 96.3,380.0 96.3,420.0 97.8,420.0 97.8,380.0 97.1,355.0 96.4,330.0 99.7,305.0 105.2,290.0 117.9,270.0 128.9,250.0 138.2,225.0" fill="#51ff00" stroke="#51ff00" stroke-width="1"/><polygon points="138.2,225.0 128.9,250.0 117.9,270.0 105.2,290.0 99.7,305.0 96.4,330.0 97.1,355.0 97.8,380.0 97.8,420.0 99.4,420.0 99.4,380.0 98.5,355.0 97.5,330.0 100.6,305.0 105.8,290.0 118.7,270.0 129.7,250.0 138.8,225.0" fill="#3aff13" stroke="#3aff13" stroke-width="1"/><polygon points="138.8,225.0 129.7,250.0 118.7,270.0 105.8,290.0 100.6,305.0 97.5,330.0 98.5,355.0 99.4,380.0 99.4,420.0 102.0,420.0 101.7,380.0 100.7,355.0 99.7,330.0 102.7,305.0 107.7,290.0 120.5,270.0 131.2,250.0 140.0,225.0" fill="#24ff28" stroke="#24ff28" stroke-width="1"/><polygon points="140.0,225.0 131.2,250.0 120.5,270.0 107.7,290.0 102.7,305.0 99.7,330.0 100.7,355.0 101.7,380.0 102.0,420.0 105.3,420.0 104.7,380.0 103.7,355.0 102.7,330.0 105.7,305.0 110.7,290.0 123.0,270.0 133.3,250.0 141.7,225.0" fill="#0eff3e" stroke="#0eff3e" stroke-width="1"/><polygon points="141.7,225.0 133.3,250.0 123.0,270.0 110.7,290.0 105.7,305.0 102.7,330.0 103.7,355.0 104.7,380.0 105.3,420.0 108.4,420.0 107.4,380.0 106.5,355.0 105.6,330.0 108.5,305.0 113.5,290.0 125.5,270.0 135.5,250.0 143.5,225.0" fill="#00ff59" stroke="#00ff59" stroke-width="1"/><polygon points="143.5,225.0 135.5,250.0 125.5,270.0 113.5,290.0 108.5,305.0 105.6,330.0 106.5,355.0 107.4,380.0 108.4,420.0 110.2,420.0 109.2,380.0 109.0,355.0 108.7,330.0 111.0,305.0 116.0,290.0 128.0,270.0 138.0,250.0 146.0,225.0" fill="#00ff79" stroke="#00ff79" stroke-width="1"/><polygon points="146.0,225.0 138.0,250.0 128.0,270.0 116.0,290.0 111.0,305.0 108.7,330.0 109.0,355.0 109.2,380.0 110.2,420.0 111.7,420.0 110.7,380.0 111.2,355.0 111.7,330.0 113.7,305.0 118.2,290.0 130.0,270.0 139.7,250.0 147.7,225.0" fill="#00ff94" stroke="#00ff94" stroke-width="1"/><polygon points="147.7,225.0 139.7,250.0 130.0,270.0 118.2,290.0 113.7,305.0 111.7,330.0 111.2,355.0 110.7,380.0 111.7,420.0 113.0,420.0 112.0,380.0 113.3,355.0 114.7,330.0 116.7,305.0 120.3,290.0 131.7,270.0 141.0,250.0 149.0,225.0" fill="#00ffac" stroke="#00ffac" stroke-width="1"/><polygon points="149.0,225.0 141.0,250.0 131.7,270.0 120.3,290.0 116.7,305.0 114.7,330.0 113.3,355.0 112.0,380.0 113.0,420.0 114.2,420.0 113.2,380.0 115.2,355.0 117.3,330.0 119.2,305.0 122.2,290.0 133.2,270.0 142.2,250.0 150.2,225.0" fill="#00ffc1" stroke="#00ffc1" stroke-width="1"/><polygon points="150.2,225.0 142.2,250.0 133.2,270.0 122.2,290.0 119.2,305.0 117.3,330.0 115.2,355.0 113.2,380.0 114.2,420.0 115.1,420.0 114.1,380.0 116.3,355.0 118.7,330.0 120.5,305.0 123.3,290.0 134.3,270.0 143.5,250.0 151.5,225.0" fill="#00ffd4" stroke="#00ffd4" stroke-width="1"/><polygon points="151.5,225.0 143.5,250.0 134.3,270.0 123.3,290.0 120.5,305.0 118.7,330.0 116.3,355.0 114.1,380.0 115.1,420.0 116.0,420.0 115.0,380.0 117.4,355.0 120.1,330.0 121.7,305.0 124.4,290.0 135.4,270.0 144.7,250.0 152.7,225.0" fill="#00ffe4" stroke="#00ffe4" stroke-width="1"/><polygon points="152.7,225.0 144.7,250.0 135.4,270.0 124.4,290.0 121.7,305.0 120.1,330.0 117.4,355.0 115.0,380.0 116.0,420.0 116.9,420.0 115.9,380.0 118.4,355.0 121.6,330.0 123.0,305.0 125.4,290.0 136.4,270.0 146.0,250.0 154.0,225.0" fill="#00fff3" stroke="#00fff3" stroke-width="1"/><polygon points="154.0,225.0 146.0,250.0 136.4,270.0 125.4,290.0 123.0,305.0 121.6,330.0 118.4,355.0 115.9,380.0 116.9,420.0 117.7,420.0 116.7,380.0 119.5,355.0 123.0,330.0 124.2,305.0 126.5,290.0 137.5,270.0 147.2,250.0 155.2,225.0" fill="#00feff" stroke="#00feff" stroke-width="1"/><polygon points="155.2,225.0 147.2,250.0 137.5,270.0 126.5,290.0 124.2,305.0 123.0,330.0 119.5,355.0 116.7,380.0 117.7,420.0 118.6,420.0 117.6,380.0 120.6,355.0 124.4,330.0 125.5,305.0 127.6,290.0 138.6,270.0 148.5,250.0 156.5,225.0" fill="#00f1ff" stroke="#00f1ff" stroke-width="1"/><polygon points="156.5,225.0 148.5,250.0 138.6,270.0 127.6,290.0 125.5,305.0 124.4,330.0 120.6,355.0 117.6,380.0 118.6,420.0 120.5,420.0 119.5,380.0 122.0,355.0 126.5,330.0 127.7,305.0 129.7,290.0 144.2,270.0 158.0,250.0 165.2,225.0" fill="#00e4ff" stroke="#00e4ff" stroke-width="1"/><polygon points="165.2,225.0 158.0,250.0 144.2,270.0 129.7,290.0 127.7,305.0 126.5,330.0 122.0,355.0 119.5,380.0 120.5,420.0 123.0,420.0 122.0,380.0 123.7,355.0 129.0,330.0 130.7,305.0 132.7,290.0 153.0,270.0 173.0,250.0 179.0,225.0" fill="#00d7ff" stroke="#00d7ff" stroke-width="1"/><polygon points="179.0,225.0 173.0,250.0 153.0,270.0 132.7,290.0 130.7,305.0 129.0,330.0 123.7,355.0 122.0,380.0 123.0,420.0 125.4,420.0 124.4,380.0 125.4,355.0 131.4,330.0 133.4,305.0 135.9,290.0 161.1,270.0 185.6,250.0 190.9,225.0" fill="#00cbff" stroke="#00cbff" stroke-width="1"/><polygon points="190.9,225.0 185.6,250.0 161.1,270.0 135.9,290.0 133.4,305.0 131.4,330.0 125.4,355.0 124.4,380.0 125.4,420.0 127.6,420.0 126.6,380.0 127.6,355.0 133.2,330.0 135.6,305.0 140.6,290.0 166.7,270.0 188.7,250.0 195.6,225.0" fill="#00beff" stroke="#00beff" stroke-width="1"/><polygon points="195.6,225.0 188.7,250.0 166.7,270.0 140.6,290.0 135.6,305.0 133.2,330.0 127.6,355.0 126.6,380.0 127.6,420.0 129.8,420.0 128.8,380.0 129.8,355.0 135.1,330.0 137.8,305.0 145.3,290.0 172.4,270.0 191.9,250.0 200.3,225.0" fill="#00b1ff" stroke="#00b1ff" stroke-width="1"/><polygon points="200.3,225.0 191.9,250.0 172.4,270.0 145.3,290.0 137.8,305.0 135.1,330.0 129.8,355.0 128.8,380.0 129.8,420.0 132.0,420.0 131.0,380.0 132.0,355.0 137.0,330.0 140.0,305.0 150.0,290.0 178.0,270.0 195.0,250.0 205.0,225.0" fill="#00a4ff" stroke="#00a4ff" stroke-width="1"/><polygon points="205.0,225.0 195.0,250.0 178.0,270.0 150.0,290.0 140.0,305.0 137.0,330.0 132.0,355.0 131.0,380.0 132.0,420.0 134.5,420.0 133.5,380.0 134.1,355.0 138.7,330.0 142.1,305.0 154.2,290.0 180.9,270.0 197.1,250.0 207.1,225.0" fill="#0098ff" stroke="#0098ff" stroke-width="1"/><polygon points="207.1,225.0 197.1,250.0 180.9,270.0 154.2,290.0 142.1,305.0 138.7,330.0 134.1,355.0 133.5,380.0 134.5,420.0 137.0,420.0 136.0,380.0 136.2,355.0 140.3,330.0 144.2,305.0 158.3,290.0 183.8,270.0 199.2,250.0 209.2,225.0" fill="#008bff" stroke="#008bff" stroke-width="1"/><polygon points="209.2,225.0 199.2,250.0 183.8,270.0 158.3,290.0 144.2,305.0 140.3,330.0 136.2,355.0 136.0,380.0 137.0,420.0 139.0,420.0 138.0,380.0 138.0,355.0 141.7,330.0 148.7,305.0 171.2,290.0 189.5,270.0 201.5,250.0 211.5,225.0" fill="#007eff" stroke="#007eff" stroke-width="1"/><polygon points="211.5,225.0 201.5,250.0 189.5,270.0 171.2,290.0 148.7,305.0 141.7,330.0 138.0,355.0 138.0,380.0 139.0,420.0 140.7,420.0 139.7,380.0 139.7,355.0 143.0,330.0 155.0,305.0 190.0,290.0 197.0,270.0 204.0,250.0 214.0,225.0" fill="#0071ff" stroke="#0071ff" stroke-width="1"/><polygon points="214.0,225.0 204.0,250.0 197.0,270.0 190.0,290.0 155.0,305.0 143.0,330.0 139.7,355.0 139.7,380.0 140.7,420.0 142.7,420.0 141.7,380.0 141.5,355.0 144.3,330.0 162.0,305.0 206.6,290.0 203.9,270.0 206.5,250.0 216.5,225.0" fill="#0065ff" stroke="#0065ff" stroke-width="1"/><polygon points="216.5,225.0 206.5,250.0 203.9,270.0 206.6,290.0 162.0,305.0 144.3,330.0 141.5,355.0 141.7,380.0 142.7,420.0 146.5,420.0 145.2,380.0 144.3,355.0 145.8,330.0 172.0,305.0 214.9,290.0 208.7,270.0 209.3,250.0 219.0,225.0" fill="#0058ff" stroke="#0058ff" stroke-width="1"/><polygon points="219.0,225.0 209.3,250.0 208.7,270.0 214.9,290.0 172.0,305.0 145.8,330.0 144.3,355.0 145.2,380.0 146.5,420.0 150.2,420.0 148.7,380.0 147.0,355.0 147.3,330.0 182.0,305.0 223.1,290.0 213.4,270.0 212.0,250.0 221.5,225.0" fill="#004bff" stroke="#004bff" stroke-width="1"/><polygon points="221.5,225.0 212.0,250.0 213.4,270.0 223.1,290.0 182.0,305.0 147.3,330.0 147.0,355.0 148.7,380.0 150.2,420.0 154.0,420.0 152.2,380.0 149.8,355.0 148.8,330.0 192.0,305.0 231.4,290.0 218.2,270.0 214.8,250.0 224.0,225.0" fill="#003eff" stroke="#003eff" stroke-width="1"/><polygon points="224.0,225.0 214.8,250.0 218.2,270.0 231.4,290.0 192.0,305.0 148.8,330.0 149.8,355.0 152.2,380.0 154.0,420.0 158.6,420.0 156.6,380.0 153.4,355.0 150.4,330.0 201.9,305.0 238.9,290.0 223.0,270.0 217.7,250.0 226.7,225.0" fill="#0032ff" stroke="#0032ff" stroke-width="1"/><polygon points="226.7,225.0 217.7,250.0 223.0,270.0 238.9,290.0 201.9,305.0 150.4,330.0 153.4,355.0 156.6,380.0 158.6,420.0 166.4,420.0 164.4,380.0 160.6,355.0 152.6,330.0 211.2,305.0 243.2,290.0 228.0,270.0 221.1,250.0 230.5,225.0" fill="#0025ff" stroke="#0025ff" stroke-width="1"/><polygon points="230.5,225.0 221.1,250.0 228.0,270.0 243.2,290.0 211.2,305.0 152.6,330.0 160.6,355.0 164.4,380.0 166.4,420.0 174.2,420.0 172.2,380.0 167.8,355.0 154.8,330.0 220.6,305.0 247.6,290.0 233.0,270.0 224.6,250.0 234.2,225.0" fill="#0018ff" stroke="#0018ff" stroke-width="1"/><polygon points="234.2,225.0 224.6,250.0 233.0,270.0 247.6,290.0 220.6,305.0 154.8,330.0 167.8,355.0 172.2,380.0 174.2,420.0 182.0,420.0 180.0,380.0 175.0,355.0 157.0,330.0 230.0,305.0 252.0,290.0 238.0,270.0 228.0,250.0 238.0,225.0" fill="#000bff" stroke="#000bff" stroke-width="1"/><polygon points="238.0,225.0 228.0,250.0 238.0,270.0 252.0,290.0 230.0,305.0 157.0,330.0 175.0,355.0 180.0,380.0 182.0,420.0 196.4,420.0 195.6,380.0 190.6,355.0 177.6,330.0 245.6,305.0 260.1,290.0 248.6,270.0 238.6,250.0 249.2,225.0" fill="#0000fe" stroke="#0000fe" stroke-width="1"/><polygon points="249.2,225.0 238.6,250.0 248.6,270.0 260.1,290.0 245.6,305.0 177.6,330.0 190.6,355.0 195.6,380.0 196.4,420.0 208.2,420.0 208.7,380.0 206.2,355.0 201.2,330.0 258.2,305.0 267.5,290.0 258.2,270.0 249.2,250.0 259.5,225.0" fill="#0000f1" stroke="#0000f1" stroke-width="1"/><polygon points="259.5,225.0 249.2,250.0 258.2,270.0 267.5,290.0 258.2,305.0 201.2,330.0 206.2,355.0 208.7,380.0 208.2,420.0 216.4,420.0 218.1,380.0 221.9,355.0 229.4,330.0 266.4,305.0 273.7,290.0 266.4,270.0 259.9,250.0 268.2,225.0" fill="#0000e4" stroke="#0000e4" stroke-width="1"/><polygon points="268.2,225.0 259.9,250.0 266.4,270.0 273.7,290.0 266.4,305.0 229.4,330.0 221.9,355.0 218.1,380.0 216.4,420.0 229.3,420.0 233.3,380.0 245.0,355.0 255.0,330.0 277.3,305.0 281.7,290.0 277.3,270.0 274.0,250.0 280.0,225.0" fill="#0000d7" stroke="#0000d7" stroke-width="1"/><polygon points="280.0,225.0 274.0,250.0 277.3,270.0 281.7,290.0 277.3,305.0 255.0,330.0 245.0,355.0 233.3,380.0 229.3,420.0 235.0,420.0 240.0,380.0 255.0,355.0 265.0,330.0 282.0,305.0 285.0,290.0 282.0,270.0 280.0,250.0 285.0,225.0" fill="#0000cf" stroke="#0000cf" stroke-width="1"/><polygon points="285.0,225.0 280.0,250.0 282.0,270.0 285.0,290.0 282.0,305.0 265.0,330.0 255.0,355.0 240.0,380.0 235.0,420.0 300.0,420.0 300.0,225.0" fill="#0000c7"/></g><g filter="url(#b3)"><polygon points="222,15 260,15 260,40" fill="#0000d8"/></g><g filter="url(#b1)"><polygon points="238.6,78.5 252,42 252,76" fill="#0000d0"/></g><g filter="url(#b2)"><ellipse cx="233" cy="82.5" rx="3.2" ry="2.4" fill="#1488ff"/></g><g filter="url(#b0_6)"><polygon points="242,201 253,201 253,183" fill="#a8ff50"/></g><rect x="62" y="26" width="54" height="155" fill="url(#dotsY)"/><rect x="116" y="26" width="46" height="155" fill="url(#dotsC)"/><rect x="152" y="84" width="68" height="100" fill="url(#dotsD)"/></g><g clip-path="url(#dom)"><path d="M138.0,22.6 L134.9,26.0 L129.9,31.0 L124.9,37.0 L120.0,43.0 L115.0,49.0 L110.0,55.0 L105.5,60.5 L100.4,68.9 L93.3,77.7 L86.5,87.2 L82.6,92.0 L79.3,96.0 L76.0,99.3 L72.6,102.0 L69.3,104.3 L66.0,107.3 L62.7,110.0 L60.0,112.6 L58.5,113.5" fill="none" stroke="#ff2000" stroke-width="2.4" filter="url(#b0_6)"/></g></g><rect x="58.5" y="22.5" width="193" height="178" fill="none" stroke="#1a1a1a" stroke-width="1.05"/><path d="M58.5,200 v-3.5 M58.5,22 v3.5" stroke="#111" stroke-width="1"/><text transform="translate(58.8,212.6) scale(0.94,1)" font-size="13.8" text-anchor="middle">0</text><path d="M111.5,200 v-3.5 M111.5,22 v3.5" stroke="#111" stroke-width="1"/><text transform="translate(111.8,212.6) scale(0.94,1)" font-size="13.8" text-anchor="middle">5000</text><path d="M164.5,200 v-3.5 M164.5,22 v3.5" stroke="#111" stroke-width="1"/><text transform="translate(164.8,212.6) scale(0.94,1)" font-size="13.8" text-anchor="middle">10000</text><path d="M217.5,200 v-3.5 M217.5,22 v3.5" stroke="#111" stroke-width="1"/><text transform="translate(217.8,212.6) scale(0.94,1)" font-size="13.8" text-anchor="middle">15000</text><path d="M58.5,199.5 h3.5 M251.5,199.5 h-3.5" stroke="#111" stroke-width="1"/><text transform="translate(55.3,201.9) scale(0.94,1)" font-size="13.8" text-anchor="end">0</text><path d="M58.5,146.0 h3.5 M251.5,146.0 h-3.5" stroke="#111" stroke-width="1"/><text transform="translate(55.3,148.4) scale(0.94,1)" font-size="13.8" text-anchor="end">5000</text><path d="M58.5,92.5 h3.5 M251.5,92.5 h-3.5" stroke="#111" stroke-width="1"/><text transform="translate(55.3,94.9) scale(0.94,1)" font-size="13.8" text-anchor="end">10000</text><path d="M58.5,39.0 h3.5 M251.5,39.0 h-3.5" stroke="#111" stroke-width="1"/><text transform="translate(55.3,41.4) scale(0.94,1)" font-size="13.8" text-anchor="end">15000</text><text x="69" y="36" font-size="13">a)</text><text x="69" y="189.5" font-size="13">Aquifer 1</text><rect x="300.5" y="22.5" width="193" height="178" fill="none" stroke="#1a1a1a" stroke-width="1.05"/><path d="M300.5,200 v-3.5 M300.5,22 v3.5" stroke="#111" stroke-width="1"/><text transform="translate(300.8,212.6) scale(0.94,1)" font-size="13.8" text-anchor="middle">0</text><path d="M353.5,200 v-3.5 M353.5,22 v3.5" stroke="#111" stroke-width="1"/><text transform="translate(353.8,212.6) scale(0.94,1)" font-size="13.8" text-anchor="middle">5000</text><path d="M406.5,200 v-3.5 M406.5,22 v3.5" stroke="#111" stroke-width="1"/><text transform="translate(406.8,212.6) scale(0.94,1)" font-size="13.8" text-anchor="middle">10000</text><path d="M459.5,200 v-3.5 M459.5,22 v3.5" stroke="#111" stroke-width="1"/><text transform="translate(459.8,212.6) scale(0.94,1)" font-size="13.8" text-anchor="middle">15000</text><path d="M300.5,199.5 h3.5 M493.5,199.5 h-3.5" stroke="#111" stroke-width="1"/><text transform="translate(297.3,201.9) scale(0.94,1)" font-size="13.8" text-anchor="end">0</text><path d="M300.5,146.0 h3.5 M493.5,146.0 h-3.5" stroke="#111" stroke-width="1"/><text transform="translate(297.3,148.4) scale(0.94,1)" font-size="13.8" text-anchor="end">5000</text><path d="M300.5,92.5 h3.5 M493.5,92.5 h-3.5" stroke="#111" stroke-width="1"/><text transform="translate(297.3,94.9) scale(0.94,1)" font-size="13.8" text-anchor="end">10000</text><path d="M300.5,39.0 h3.5 M493.5,39.0 h-3.5" stroke="#111" stroke-width="1"/><text transform="translate(297.3,41.4) scale(0.94,1)" font-size="13.8" text-anchor="end">15000</text><text x="311" y="36" font-size="13">b)</text><text x="311" y="189.5" font-size="13">Aquifer 1</text><rect x="58.5" y="234" width="193" height="178" fill="none" stroke="#1a1a1a" stroke-width="1.05"/><path d="M58.5,411.5 v-3.5 M58.5,233.5 v3.5" stroke="#111" stroke-width="1"/><text transform="translate(58.8,424.1) scale(0.94,1)" font-size="13.8" text-anchor="middle">0</text><path d="M111.5,411.5 v-3.5 M111.5,233.5 v3.5" stroke="#111" stroke-width="1"/><text transform="translate(111.8,424.1) scale(0.94,1)" font-size="13.8" text-anchor="middle">5000</text><path d="M164.5,411.5 v-3.5 M164.5,233.5 v3.5" stroke="#111" stroke-width="1"/><text transform="translate(164.8,424.1) scale(0.94,1)" font-size="13.8" text-anchor="middle">10000</text><path d="M217.5,411.5 v-3.5 M217.5,233.5 v3.5" stroke="#111" stroke-width="1"/><text transform="translate(217.8,424.1) scale(0.94,1)" font-size="13.8" text-anchor="middle">15000</text><path d="M58.5,411.0 h3.5 M251.5,411.0 h-3.5" stroke="#111" stroke-width="1"/><text transform="translate(55.3,413.4) scale(0.94,1)" font-size="13.8" text-anchor="end">0</text><path d="M58.5,357.5 h3.5 M251.5,357.5 h-3.5" stroke="#111" stroke-width="1"/><text transform="translate(55.3,359.9) scale(0.94,1)" font-size="13.8" text-anchor="end">5000</text><path d="M58.5,304.0 h3.5 M251.5,304.0 h-3.5" stroke="#111" stroke-width="1"/><text transform="translate(55.3,306.4) scale(0.94,1)" font-size="13.8" text-anchor="end">10000</text><path d="M58.5,250.5 h3.5 M251.5,250.5 h-3.5" stroke="#111" stroke-width="1"/><text transform="translate(55.3,252.9) scale(0.94,1)" font-size="13.8" text-anchor="end">15000</text><text x="69" y="247.5" font-size="13">c)</text><text x="69" y="401" font-size="13">Aquifer 2</text><rect x="300.5" y="234" width="193" height="178" fill="none" stroke="#1a1a1a" stroke-width="1.05"/><path d="M300.5,411.5 v-3.5 M300.5,233.5 v3.5" stroke="#111" stroke-width="1"/><text transform="translate(300.8,424.1) scale(0.94,1)" font-size="13.8" text-anchor="middle">0</text><path d="M353.5,411.5 v-3.5 M353.5,233.5 v3.5" stroke="#111" stroke-width="1"/><text transform="translate(353.8,424.1) scale(0.94,1)" font-size="13.8" text-anchor="middle">5000</text><path d="M406.5,411.5 v-3.5 M406.5,233.5 v3.5" stroke="#111" stroke-width="1"/><text transform="translate(406.8,424.1) scale(0.94,1)" font-size="13.8" text-anchor="middle">10000</text><path d="M459.5,411.5 v-3.5 M459.5,233.5 v3.5" stroke="#111" stroke-width="1"/><text transform="translate(459.8,424.1) scale(0.94,1)" font-size="13.8" text-anchor="middle">15000</text><path d="M300.5,411.0 h3.5 M493.5,411.0 h-3.5" stroke="#111" stroke-width="1"/><text transform="translate(297.3,413.4) scale(0.94,1)" font-size="13.8" text-anchor="end">0</text><path d="M300.5,357.5 h3.5 M493.5,357.5 h-3.5" stroke="#111" stroke-width="1"/><text transform="translate(297.3,359.9) scale(0.94,1)" font-size="13.8" text-anchor="end">5000</text><path d="M300.5,304.0 h3.5 M493.5,304.0 h-3.5" stroke="#111" stroke-width="1"/><text transform="translate(297.3,306.4) scale(0.94,1)" font-size="13.8" text-anchor="end">10000</text><path d="M300.5,250.5 h3.5 M493.5,250.5 h-3.5" stroke="#111" stroke-width="1"/><text transform="translate(297.3,252.9) scale(0.94,1)" font-size="13.8" text-anchor="end">15000</text><text x="311" y="247.5" font-size="13">d)</text><text x="311" y="401" font-size="13">Aquifer 2</text><text x="155" y="17" font-size="15.2" text-anchor="middle">ASRRO</text><text x="396.8" y="17" font-size="15.2" text-anchor="middle">BWRO</text><text transform="translate(155.7,442.2) scale(0.97,1)" font-size="14" text-anchor="middle">West - East (m)</text><text transform="translate(397.7,442.2) scale(0.97,1)" font-size="14" text-anchor="middle">West - East (m)</text><text transform="translate(14.8,111.2) rotate(-90)" font-size="13.8" text-anchor="middle">North - South (m)</text><text transform="translate(14.8,322.7) rotate(-90)" font-size="13.8" text-anchor="middle">North - South (m)</text><rect x="505.5" y="26.3" width="9" height="169.7" fill="url(#cbar1)" stroke="#111" stroke-width="1"/><path d="M514.5,196.0 h-2.2" stroke="#222" stroke-width="0.9"/><text transform="translate(516.8,199.2) scale(0.94,1)" font-size="13.8">0</text><path d="M514.5,174.8 h-2.2" stroke="#222" stroke-width="0.9"/><text transform="translate(516.8,178.0) scale(0.94,1)" font-size="13.8">1</text><path d="M514.5,153.6 h-2.2" stroke="#222" stroke-width="0.9"/><text transform="translate(516.8,156.8) scale(0.94,1)" font-size="13.8">2</text><path d="M514.5,132.4 h-2.2" stroke="#222" stroke-width="0.9"/><text transform="translate(516.8,135.6) scale(0.94,1)" font-size="13.8">3</text><path d="M514.5,111.2 h-2.2" stroke="#222" stroke-width="0.9"/><text transform="translate(516.8,114.4) scale(0.94,1)" font-size="13.8">4</text><path d="M514.5,89.9 h-2.2" stroke="#222" stroke-width="0.9"/><text transform="translate(516.8,93.1) scale(0.94,1)" font-size="13.8">5</text><path d="M514.5,68.7 h-2.2" stroke="#222" stroke-width="0.9"/><text transform="translate(516.8,71.9) scale(0.94,1)" font-size="13.8">6</text><path d="M514.5,47.5 h-2.2" stroke="#222" stroke-width="0.9"/><text transform="translate(516.8,50.7) scale(0.94,1)" font-size="13.8">7</text><path d="M514.5,26.3 h-2.2" stroke="#222" stroke-width="0.9"/><text transform="translate(516.8,29.5) scale(0.94,1)" font-size="13.8">8</text><rect x="505.5" y="238.3" width="9" height="169.2" fill="url(#cbar1)" stroke="#111" stroke-width="1"/><path d="M514.5,407.5 h-2.2" stroke="#222" stroke-width="0.9"/><text transform="translate(516.8,410.7) scale(0.94,1)" font-size="13.8">0</text><path d="M514.5,387.4 h-2.2" stroke="#222" stroke-width="0.9"/><text transform="translate(516.8,390.6) scale(0.94,1)" font-size="13.8">2</text><path d="M514.5,367.3 h-2.2" stroke="#222" stroke-width="0.9"/><text transform="translate(516.8,370.5) scale(0.94,1)" font-size="13.8">4</text><path d="M514.5,347.3 h-2.2" stroke="#222" stroke-width="0.9"/><text transform="translate(516.8,350.5) scale(0.94,1)" font-size="13.8">6</text><path d="M514.5,327.2 h-2.2" stroke="#222" stroke-width="0.9"/><text transform="translate(516.8,330.4) scale(0.94,1)" font-size="13.8">8</text><path d="M514.5,307.1 h-2.2" stroke="#222" stroke-width="0.9"/><text transform="translate(516.8,310.3) scale(0.94,1)" font-size="13.8">10</text><path d="M514.5,287.0 h-2.2" stroke="#222" stroke-width="0.9"/><text transform="translate(516.8,290.2) scale(0.94,1)" font-size="13.8">12</text><path d="M514.5,266.9 h-2.2" stroke="#222" stroke-width="0.9"/><text transform="translate(516.8,270.1) scale(0.94,1)" font-size="13.8">14</text><path d="M514.5,246.8 h-2.2" stroke="#222" stroke-width="0.9"/><text transform="translate(516.8,250.0) scale(0.94,1)" font-size="13.8">16</text><text transform="translate(536.5,110.5) rotate(-90)" font-size="13.4" text-anchor="middle">Cl (g/L)</text><text transform="translate(544,323.5) rotate(-90)" font-size="13.4" text-anchor="middle">Cl (g/L)</text></svg></body></html>
